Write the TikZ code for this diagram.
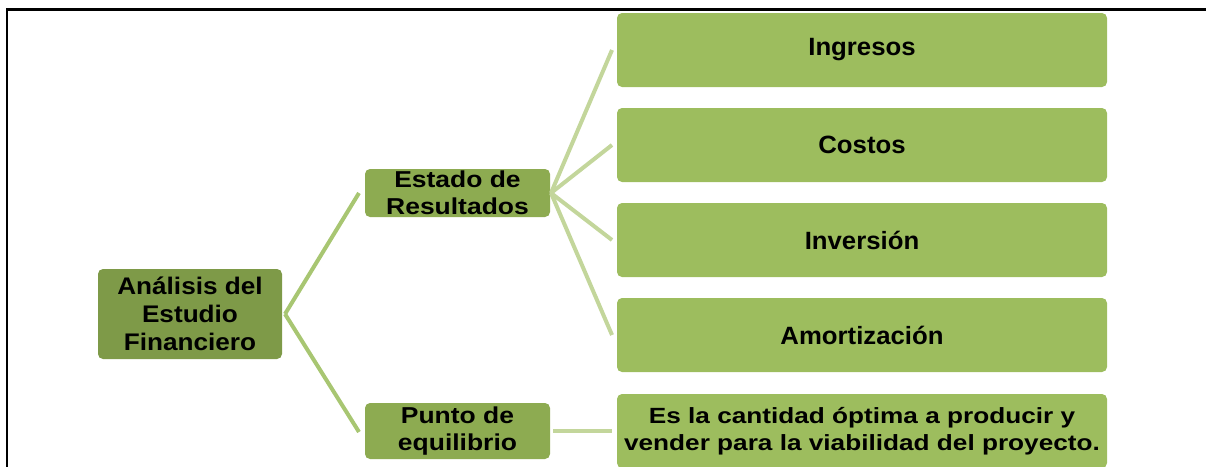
\documentclass[tikz,border=0pt]{standalone}
\usepackage{fontspec}
\setmainfont{Liberation Sans}
\newfontfamily\fR[FakeStretch=1.03]{Liberation Sans}
\newfontfamily\fB[FakeStretch=1.19]{Liberation Sans}
\newfontfamily\fL[FakeStretch=1.09]{Liberation Sans}
\newfontfamily\fM[FakeStretch=1.15]{Liberation Sans}
\definecolor{cDark}{HTML}{7E9A48}
\definecolor{cMid}{HTML}{8DAB51}
\definecolor{cLight}{HTML}{9DBD5E}
\definecolor{lineA}{HTML}{A8C672}
\definecolor{lineB}{HTML}{C3D69B}
\tikzset{
  box/.style={rectangle, rounded corners=5pt, inner sep=0pt, outer sep=0pt, align=center, text=black},
  rootbox/.style={box, fill=cDark, minimum width=184pt, minimum height=90pt,
    font=\fL\fontsize{24}{28}\selectfont\bfseries},
  midbox/.style={box, fill=cMid, minimum width=185pt,
    font=\fM\fontsize{23}{27}\selectfont\bfseries},
  leafbox/.style={box, fill=cLight, minimum width=490pt, minimum height=74pt,
    font=\fR\fontsize{25}{29}\selectfont\bfseries},
  conA/.style={line width=4pt, draw=lineA},
  conB/.style={line width=4pt, draw=lineB},
}
\begin{document}
\begin{tikzpicture}[x=1pt,y=-1pt]
\useasboundingbox (0,0) rectangle (1206,466);
% frame
\draw[line width=2.5pt, line cap=rect] (7,470) -- (7,9.5) -- (1210,9.5);
% nodes
\node[rootbox] (A) at (190,314) {Análisis del\\Estudio\\Financiero};
\node[midbox, minimum height=48pt] (E) at (457.5,193) {Estado de\\Resultados};
\node[midbox, minimum height=56pt] (P) at (457.5,431) {Punto de\\equilibrio};
\node[leafbox] (I1) at (862,50) {Ingresos};
\node[leafbox] (I2) at (862,145) {Costos};
\node[leafbox] (I3) at (862,240) {Inversión};
\node[leafbox] (I4) at (862,335) {Amortización};
\node[leafbox, font=\fB\fontsize{22}{27}\selectfont\bfseries] (B) at (862,431)
  {Es la cantidad óptima a producir y\\vender para la viabilidad del proyecto.};
% connectors
\draw[conA] ([xshift=3pt]A.east) -- ([xshift=-6pt]E.west);
\draw[conA] ([xshift=3pt]A.east) -- ([xshift=-6pt,yshift=-1pt]P.west);
\foreach \t in {I1,I2,I3,I4}{
  \draw[conB] ([xshift=1pt]E.east) -- ([xshift=-5pt]\t.west);
}
\draw[conB] ([xshift=3pt]P.east) -- ([xshift=-5pt]B.west);
\end{tikzpicture}
\end{document}
